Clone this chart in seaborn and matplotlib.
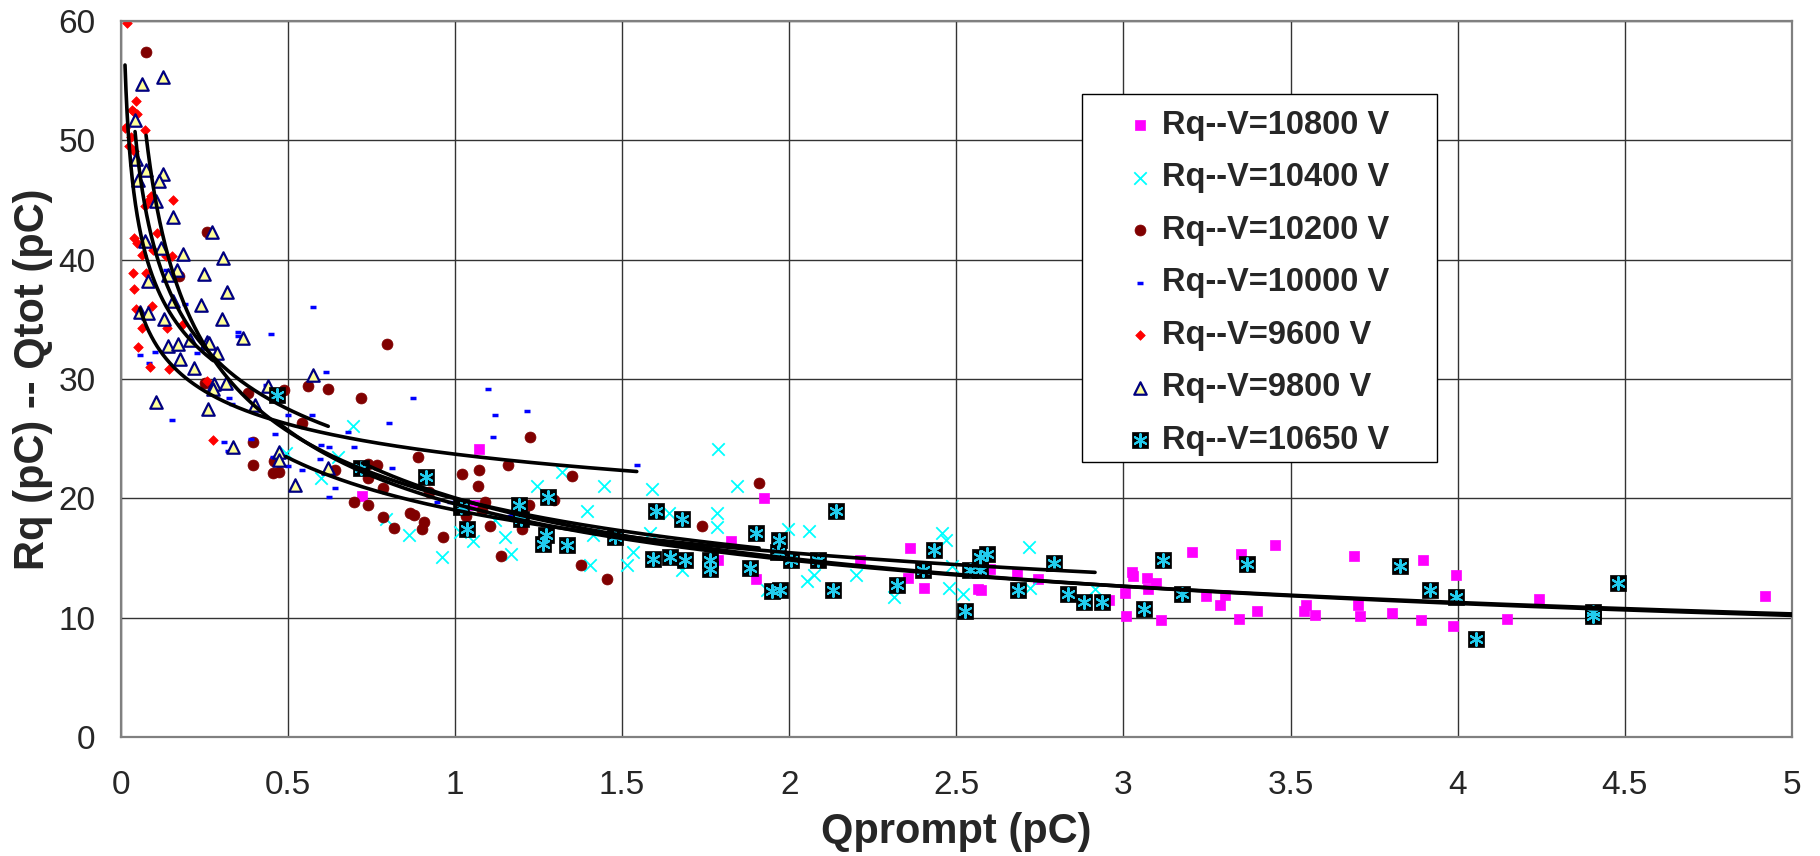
import numpy as np
import matplotlib
matplotlib.use('Agg')
import matplotlib.pyplot as plt
from matplotlib.patches import Rectangle
from matplotlib.ticker import FuncFormatter
from matplotlib.legend_handler import HandlerTuple
import seaborn as sns

# Qprompt (pC) and Rq (pC), one pair of lists per voltage
q_10800 = [0.723, 1.057, 1.073, 1.926, 1.826, 1.788, 1.9, 2.212, 2.36, 2.354, 2.402, 2.565, 2.574, 2.6,
           2.681, 2.743, 2.958, 3.025, 3.03, 3.005, 3.008, 3.07, 3.098, 3.072, 3.112, 3.206, 3.247, 3.289,
           3.304, 3.347, 3.352, 3.399, 3.452, 3.547, 3.539, 3.572, 3.691, 3.703, 3.708, 3.803, 3.891, 3.896,
           3.996, 3.986, 4.147, 4.242, 4.92]
r_10800 = [20.2, 19.4, 24.1, 20.0, 16.4, 14.8, 13.2, 14.8, 15.8, 13.3, 12.5, 12.4, 12.3, 14.1,
           13.8, 13.2, 11.5, 13.8, 13.5, 12.1, 10.1, 13.3, 12.9, 12.4, 9.8, 15.5, 11.8, 11.1,
           11.9, 9.9, 15.3, 10.6, 16.1, 11.1, 10.6, 10.2, 15.2, 11.1, 10.1, 10.4, 9.8, 14.8,
           13.6, 9.3, 9.9, 11.6, 11.8]

q_10400 = [0.696, 0.494, 0.649, 0.6, 0.794, 0.864, 0.962, 1.015, 1.055, 1.15, 1.167, 1.12, 1.245, 1.32,
           1.396, 1.404, 1.414, 1.447, 1.514, 1.532, 1.589, 1.584, 1.639, 1.679, 1.788, 1.845, 1.783, 1.783,
           1.996, 2.06, 2.053, 2.075, 2.2, 1.933, 2.315, 2.457, 2.47, 2.478, 2.519, 2.486, 2.718, 2.721, 2.915]
r_10400 = [26.1, 23.8, 23.5, 21.7, 18.3, 16.9, 15.1, 17.2, 16.4, 16.8, 15.3, 18.2, 21.0, 22.2,
           18.9, 14.4, 16.9, 21.0, 14.4, 15.5, 20.8, 17.1, 18.8, 14.0, 24.1, 21.0, 18.8, 17.6,
           17.4, 17.3, 13.1, 13.6, 13.6, 12.3, 11.7, 17.1, 16.5, 12.5, 12.0, 14.3, 15.9, 12.5, 12.4]

q_10200 = [0.076, 0.259, 0.175, 0.796, 0.252, 0.381, 0.49, 0.56, 0.62, 0.72, 0.541, 0.395, 0.395, 0.46,
           0.455, 0.475, 0.641, 0.739, 0.766, 0.739, 0.786, 0.89, 0.922, 0.698, 0.739, 0.786, 0.818, 0.866,
           0.878, 0.906, 0.9, 0.965, 1.022, 1.073, 1.068, 1.09, 1.08, 1.032, 1.105, 1.138, 1.158, 1.225,
           1.222, 1.2, 1.295, 1.351, 1.377, 1.454, 1.738, 1.91]
r_10200 = [57.4, 42.3, 38.6, 32.9, 29.7, 28.8, 29.1, 29.4, 29.2, 28.4, 26.3, 24.7, 22.8, 23.1,
           22.1, 22.2, 22.4, 22.9, 22.8, 21.7, 20.9, 23.5, 20.5, 19.7, 19.4, 18.4, 17.5, 18.8,
           18.6, 18.0, 17.4, 16.8, 22.0, 22.4, 21.0, 19.7, 19.0, 18.5, 17.7, 15.2, 22.8, 25.1,
           19.4, 17.4, 19.9, 21.9, 14.4, 13.2, 17.7, 21.3]

q_10000 = [0.058, 0.085, 0.103, 0.136, 0.154, 0.192, 0.229, 0.31, 0.32, 0.325, 0.332, 0.352, 0.352, 0.389,
           0.435, 0.451, 0.457, 0.463, 0.5, 0.5, 0.541, 0.571, 0.576, 0.596, 0.598, 0.614, 0.624, 0.624,
           0.641, 0.681, 0.698, 0.803, 0.812, 0.876, 0.946, 0.985, 1.10, 1.115, 1.12, 1.165, 1.17, 1.215, 1.544]
r_10000 = [32.0, 31.3, 32.3, 39.1, 26.6, 36.3, 32.2, 24.7, 24.0, 28.4, 27.9, 33.9, 33.6, 25.0,
           29.5, 33.8, 23.5, 25.4, 27.0, 22.7, 22.4, 27.0, 36.0, 23.3, 24.5, 30.6, 24.3, 20.1,
           20.9, 25.6, 24.3, 26.3, 22.5, 28.4, 19.7, 19.7, 29.2, 25.1, 27.0, 18.5, 18.6, 27.3, 22.8]

q_9600 = [0.02, 0.046, 0.04, 0.05, 0.035, 0.013, 0.073, 0.03, 0.026, 0.04, 0.09, 0.085, 0.073, 0.157,
          0.04, 0.048, 0.108, 0.065, 0.097, 0.135, 0.155, 0.036, 0.076, 0.04, 0.046, 0.093, 0.063, 0.138,
          0.187, 0.053, 0.088, 0.145, 0.257, 0.277]
r_9600 = [59.8, 53.3, 52.4, 52.2, 52.5, 51.0, 50.9, 50.3, 49.5, 49.1, 45.3, 45.0, 44.5, 45.0,
          41.8, 41.4, 42.2, 40.4, 40.8, 40.3, 40.3, 38.9, 38.9, 37.5, 35.9, 36.1, 34.3, 34.3,
          34.6, 32.7, 31.0, 30.8, 29.8, 24.9]

q_9800 = [0.063, 0.126, 0.043, 0.046, 0.076, 0.126, 0.053, 0.116, 0.106, 0.156, 0.272, 0.073, 0.121, 0.187,
          0.307, 0.168, 0.143, 0.25, 0.083, 0.317, 0.156, 0.24, 0.058, 0.081, 0.13, 0.302, 0.207, 0.258,
          0.265, 0.365, 0.143, 0.173, 0.287, 0.177, 0.22, 0.575, 0.28, 0.315, 0.442, 0.106, 0.26, 0.402,
          0.275, 0.335, 0.475, 0.475, 0.522, 0.621]
r_9800 = [54.7, 55.3, 51.7, 48.4, 47.5, 47.2, 46.7, 46.6, 44.9, 43.6, 42.3, 41.6, 41.0, 40.5,
          40.1, 39.1, 38.7, 38.8, 38.2, 37.3, 36.5, 36.2, 35.6, 35.5, 35.0, 35.0, 33.3, 33.1,
          33.0, 33.4, 32.8, 32.9, 32.2, 31.7, 30.9, 30.3, 29.6, 29.7, 29.4, 28.1, 27.5, 27.8,
          29.2, 24.3, 23.9, 23.2, 21.1, 22.5]

q_10650 = [0.467, 0.718, 0.913, 1.018, 1.035, 1.193, 1.198, 1.278, 1.273, 1.263, 1.334, 1.479, 1.601, 1.679,
           1.594, 1.642, 1.689, 1.763, 1.763, 1.901, 1.971, 1.966, 1.883, 2.005, 2.087, 2.139, 1.948, 1.973,
           2.132, 2.322, 2.4, 2.432, 2.526, 2.541, 2.593, 2.571, 2.571, 2.791, 2.684, 2.835, 2.883, 2.935,
           3.118, 3.06, 3.175, 3.369, 3.828, 3.916, 3.996, 4.056, 4.406, 4.406, 4.481]
r_10650 = [28.7, 22.5, 21.8, 19.3, 17.4, 19.4, 18.3, 20.1, 16.9, 16.2, 16.1, 16.8, 18.9, 18.3,
           14.9, 15.1, 14.8, 14.8, 14.1, 17.1, 16.5, 15.5, 14.2, 14.8, 14.8, 18.9, 12.2, 12.3,
           12.3, 12.7, 14.0, 15.7, 10.6, 14.0, 15.3, 15.1, 14.0, 14.6, 12.3, 12.0, 11.3, 11.3,
           14.8, 10.7, 12.0, 14.5, 14.3, 12.3, 11.7, 8.2, 10.1, 10.5, 12.9]

x_ticks = [0, 0.5, 1, 1.5, 2, 2.5, 3, 3.5, 4, 4.5, 5]
y_ticks = [0, 10, 20, 30, 40, 50, 60]


def power_fit(x, y, x_end=None):
    """Excel-style power trendline: straight line fit in log-log space."""
    b, log_a = np.polyfit(np.log(x), np.log(y), 1)
    x_end = max(x) if x_end is None else x_end
    xs = np.geomspace(min(x), x_end, 300)
    return xs, np.exp(log_a) * xs ** b


sns.set_style('white')
plt.rcParams['font.family'] = ['Liberation Sans', 'DejaVu Sans']

fig = plt.figure(figsize=(18.2, 8.56), dpi=100)
ax = fig.add_axes([0.0663, 0.139, 0.9183, 0.8365])

# Series in the same order as the legend (later ones drawn on top)
handles = []

sns.scatterplot(x=q_10800, y=r_10800, ax=ax, marker='s', color='#FF00FF', edgecolor='#FF00FF',
                s=50, linewidth=0.5, legend=False)
handles.append(ax.collections[-1])

sns.scatterplot(x=q_10400, y=r_10400, ax=ax, marker='x', color='#00FFFF', s=80, linewidth=1.3, legend=False)
handles.append(ax.collections[-1])

sns.scatterplot(x=q_10200, y=r_10200, ax=ax, marker='o', color='#800000', edgecolor='#800000',
                s=62, linewidth=0.5, legend=False)
handles.append(ax.collections[-1])

sns.scatterplot(x=q_10000, y=r_10000, ax=ax, marker='_', color='#0000FF', s=25, linewidth=2.5, legend=False)
handles.append(ax.collections[-1])

sns.scatterplot(x=q_9600, y=r_9600, ax=ax, marker='D', color='#FF0000', edgecolor='#FF0000',
                s=24, linewidth=0.5, legend=False)
handles.append(ax.collections[-1])

sns.scatterplot(x=q_9800, y=r_9800, ax=ax, marker='^', color='#FFFF99', edgecolor='#000080',
                s=80, linewidth=1.6, legend=False)
handles.append(ax.collections[-1])

sns.scatterplot(x=q_10650, y=r_10650, ax=ax, marker='s', color='black', edgecolor='black',
                s=130, linewidth=0.5, legend=False)
box = ax.collections[-1]
sns.scatterplot(x=q_10650, y=r_10650, ax=ax, marker=(6, 2, 0), color='#22CCEE', s=85, linewidth=1.5, legend=False)
handles.append((box, ax.collections[-1]))

# Power trendlines; the two highest-charge series run on to the axis edge
series = [(q_10800, r_10800, 5.1), (q_10400, r_10400, None), (q_10200, r_10200, None),
          (q_10000, r_10000, None), (q_9600, r_9600, None), (q_9800, r_9800, None),
          (q_10650, r_10650, 5.1)]
for q, r, x_end in series:
    xs, ys = power_fit(q, r, x_end)
    sns.lineplot(x=xs, y=ys, ax=ax, color='black', linewidth=2.6, estimator=None, sort=False,
                 legend=False, zorder=3)

# Axes, ticks and grid
ax.set_xlim(0, 5)
ax.set_ylim(0, 60)
ax.set_xticks(x_ticks)
ax.set_yticks(y_ticks)
ax.xaxis.set_major_formatter(FuncFormatter(lambda v, p: f'{v:g}'))
ax.grid(True, color='#333333', linewidth=1.0)
ax.set_axisbelow(True)
for spine in ax.spines.values():
    spine.set_color('#808080')
    spine.set_linewidth(1.6)
ax.tick_params(axis='x', direction='out', length=8.5, width=0.8, color='#555555', labelsize=24, pad=15)
ax.tick_params(axis='y', direction='out', length=7, width=0.8, color='#555555', labelsize=24, pad=11)

ax.set_xlabel('Qprompt (pC)', fontsize=30, fontweight='bold', labelpad=8)
ax.set_ylabel('Rq (pC) -- Qtot (pC)', fontsize=30, fontweight='bold', labelpad=4)

# Legend box (white, square corners) and entries
ax.add_patch(Rectangle((0.575, 0.384), 0.2126, 0.514, transform=ax.transAxes, facecolor='white',
                       edgecolor='black', linewidth=1.0, zorder=4))
labels = ['Rq--V=10800 V', 'Rq--V=10400 V', 'Rq--V=10200 V', 'Rq--V=10000 V',
          'Rq--V=9600 V', 'Rq--V=9800 V', 'Rq--V=10650 V']
leg = ax.legend(handles, labels, loc='upper left', bbox_to_anchor=(0.5925, 0.899), frameon=False,
                borderpad=0, handlelength=0.8, handletextpad=0.27, labelspacing=0.66, scatterpoints=1,
                prop={'size': 23.5, 'weight': 'bold'}, handler_map={tuple: HandlerTuple(ndivide=1)})
leg.set_zorder(5)

fig.savefig('out.png', dpi=100)
